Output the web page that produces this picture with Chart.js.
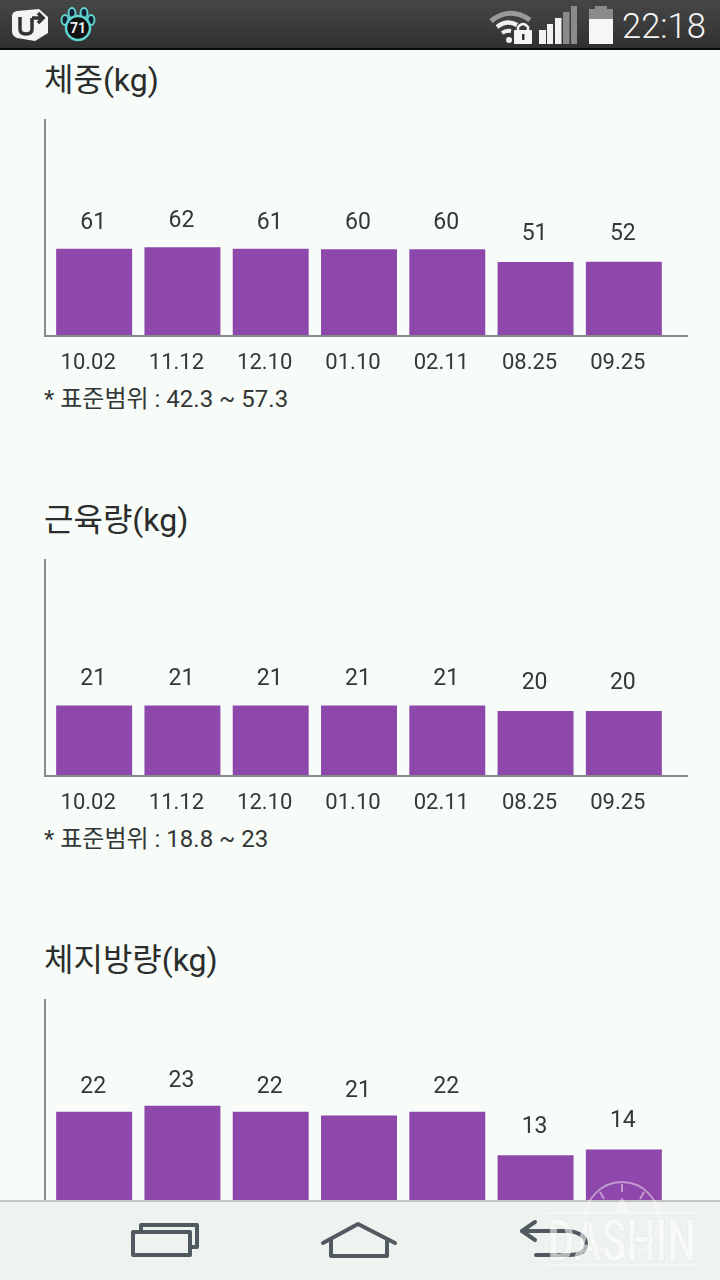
<!DOCTYPE html>
<html lang="ko">
<head>
<meta charset="utf-8">
<script src="https://cdn.jsdelivr.net/npm/chart.js@4"></script>
<style>
html,body{margin:0;padding:0;width:720px;height:1280px;overflow:hidden;background:#f7fcf8;font-family:Roboto,"Noto Sans CJK KR",sans-serif;color:#2f3331}
canvas{position:absolute;left:0}
.title{position:absolute;left:44px;font-size:32px;line-height:40px;color:#2a2d2b;white-space:nowrap}
.range{position:absolute;left:44px;font-size:24px;line-height:30px;color:#333735;white-space:nowrap}
#status{position:absolute;left:0;top:0;width:720px;height:48px;background:linear-gradient(#464646,#3c3c3c 50%,#2f2f2f);border-bottom:2px solid #0c0c0c}
#time{position:absolute;left:622px;top:4px;font-size:34.5px;line-height:44px;font-weight:300;color:#f4f4f4}
#nav{position:absolute;left:0;top:1200px;width:720px;height:80px;background:#eff3ef;border-top:2px solid #c4c2c8;box-sizing:border-box}
svg{position:absolute;left:0;top:0}
</style>
</head>
<body>
<div class="title" style="top:60px">체중(kg)</div>
<div class="range" style="top:384px">* 표준범위 : 42.3 ~ 57.3</div>
<div class="title" style="top:500px">근육량(kg)</div>
<div class="range" style="top:824px">* 표준범위 : 18.8 ~ 23</div>
<div class="title" style="top:940px">체지방량(kg)</div>

<canvas id="c1" style="top:100px" width="720" height="300"></canvas>
<canvas id="c2" style="top:540px" width="720" height="300"></canvas>
<canvas id="c3" style="top:980px" width="720" height="300"></canvas>

<div id="status"></div>
<svg width="720" height="50" viewBox="0 0 720 50">
  <path d="M17 11 L39 9 L48 17 V33 L35 41 L17 38 Q12 36 12 31 V16 Q12 12 17 11Z" fill="#f3f3f3"/>
  <path d="M20 17 V29 Q20 34 26 34 Q32 34 32 29 V18 M32 18 H43 M38 13 L43 18 L38 23" fill="none" stroke="#333" stroke-width="3.5"/>
  <g fill="#123" stroke="#5fd4d0" stroke-width="2">
    <ellipse cx="65" cy="20" rx="3.5" ry="5"/><ellipse cx="72" cy="13" rx="3.5" ry="5"/><ellipse cx="84" cy="13" rx="3.5" ry="5"/><ellipse cx="91" cy="20" rx="3.5" ry="5"/>
  </g>
  <circle cx="78" cy="28" r="12" fill="#111" stroke="#5fd4d0" stroke-width="2.5"/>
  <text x="78" y="33" font-family="Roboto" font-size="14" font-weight="700" text-anchor="middle" fill="#eee">71</text>
  <path d="M491 21 Q510 6 530 20" fill="none" stroke="#9a9a9a" stroke-width="5"/>
  <path d="M497 27 Q507 19 517 25" fill="none" stroke="#f0f0f0" stroke-width="4.5"/>
  <path d="M502 33 Q506 30 511 31" fill="none" stroke="#f0f0f0" stroke-width="4"/>
  <circle cx="509" cy="40" r="3" fill="#f0f0f0"/>
  <rect x="514" y="30" width="18" height="14" rx="1" fill="#f4f4f4"/>
  <path d="M518 30 V27 Q523 21 528 27 V30" fill="none" stroke="#f4f4f4" stroke-width="2.5"/>
  <rect x="522" y="34" width="2.5" height="6" fill="#333"/>
  <rect x="539" y="30" width="7" height="14" fill="#f2f2f2"/>
  <rect x="547" y="24" width="6" height="20" fill="#f2f2f2"/>
  <rect x="555" y="18" width="6.5" height="26" fill="#f2f2f2"/>
  <rect x="563" y="12" width="6.5" height="32" fill="#8a8a8a"/>
  <rect x="571" y="6" width="6" height="38" fill="#8a8a8a"/>
  <rect x="595" y="6" width="12" height="4" fill="#8a8a8a"/>
  <rect x="589" y="9" width="24" height="10" fill="#8a8a8a"/>
  <rect x="589" y="19" width="24" height="25" fill="#f6f6f6"/>
</svg>
<div id="time">22:18</div>
<div id="nav"></div>
<svg width="720" height="1280" viewBox="0 0 720 1280" style="pointer-events:none">
  <g fill="none" stroke="#505a60" stroke-width="4" stroke-linejoin="round" stroke-linecap="round">
    <path d="M141 1231 V1225 H197 V1247 H191"/>
    <rect x="133" y="1232" width="57" height="23"/>
    <path d="M323 1243 L358 1224 L395 1243"/>
    <path d="M331 1240 V1256 H387 V1240"/>
    <path d="M535 1222 L522 1231 L535 1240"/>
    <path d="M522 1231 H568 Q586 1233 586 1244 Q586 1255 568 1255 H536"/>
  </g>
  <g fill="none" stroke="#ffffff" stroke-opacity=".45" stroke-width="2">
    <circle cx="622" cy="1219" r="37"/>
    <path d="M622 1184 V1192 M600 1192 L604 1199 M644 1192 L640 1199"/>
    <path d="M546 1213 H697 M546 1265 H697"/>
  </g>
  <path d="M614 1212 L622 1197 L630 1212Z" fill="#fff" fill-opacity=".35"/>
  <text x="548" y="1261" textLength="148" lengthAdjust="spacingAndGlyphs" font-family="Roboto" font-size="60" font-weight="700" fill="#ffffff" fill-opacity=".55" stroke="#dfe4e0" stroke-opacity=".6">DASHIN</text>
</svg>

<script>
const dates = ["10.02","11.12","12.10","01.10","02.11","08.25","09.25"];
const weight = [60.7,61.9,60.7,60.4,60.4,51.4,51.6];
const muscle = [21.2,21.2,21.2,21.2,21.2,19.5,19.5];
const fat = [22.1,23.4,22.1,21.3,22.1,12.8,14.0];

const weightMax = 151.5, muscleMax = 65.5, fatMax = 46;
const weightGap = [26,26,26,26,26,28,28];
const muscleGap = [26,26,26,26,26,28,28];
const fatGap = [24,24,24,24,24,28,28];

const BAR = '#8e47ab', AXIS = '#868a88', TEXT = '#333735';

const decorate = {
  id: 'decorate',
  afterDatasetsDraw(chart, _args, opts) {
    const {ctx, chartArea: a} = chart;
    ctx.save();
    ctx.fillStyle = AXIS;
    ctx.fillRect(a.left - 6, a.top - 1, 2, a.bottom - a.top + 2);
    ctx.fillRect(a.left - 6, a.bottom, 644, 2);
    ctx.fillStyle = TEXT;
    ctx.font = '23px Roboto';
    ctx.textAlign = 'center';
    ctx.textBaseline = 'middle';
    chart.getDatasetMeta(0).data.forEach((bar, i) => {
      const v = chart.data.datasets[0].data[i];
      ctx.fillText(String(Math.round(v)), bar.x - 1, bar.y - opts.gap[i]);
    });
    ctx.restore();
  }
};

function draw(id, values, max, gap) {
  new Chart(document.getElementById(id), {
    type: 'bar',
    data: {labels: dates, datasets: [{data: values, backgroundColor: BAR, inflateAmount: 0, barPercentage: 1, categoryPercentage: 76 / 88.33}]},
    plugins: [decorate],
    options: {
      responsive: false,
      animation: false,
      layout: {padding: {left: 50, right: 52, top: 20, bottom: 0}},
      plugins: {legend: {display: false}, tooltip: {enabled: false}, decorate: {gap}},
      scales: {
        y: {display: false, min: 0, max},
        x: {
          afterFit(s) { s.height = 65; },
          grid: {display: false},
          border: {display: false},
          ticks: {color: TEXT, font: {family: 'Roboto', size: 22}, padding: 7, labelOffset: -6, maxRotation: 0, autoSkip: false}
        }
      }
    }
  });
}
draw('c1', weight, weightMax, weightGap);
draw('c2', muscle, muscleMax, muscleGap);
draw('c3', fat, fatMax, fatGap);
</script>
</body>
</html>
